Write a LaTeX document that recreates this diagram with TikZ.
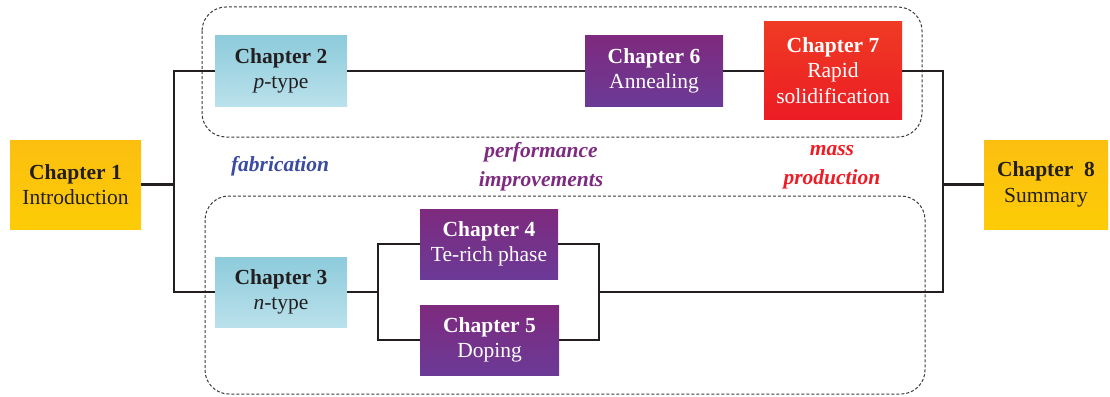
\documentclass[tikz,border=0pt]{standalone}
\usepackage{fontspec}
\setmainfont{Liberation Serif}
\definecolor{txt}{HTML}{231F20}
\definecolor{yelT}{HTML}{FBBF10}
\definecolor{yelB}{HTML}{FDCC06}
\definecolor{bluT}{HTML}{8DCBDB}
\definecolor{bluB}{HTML}{BAE1EB}
\definecolor{purT}{HTML}{7E2A7E}
\definecolor{purB}{HTML}{6B3A96}
\definecolor{redT}{HTML}{EF3B24}
\definecolor{redB}{HTML}{EC1C24}
\definecolor{fabc}{HTML}{3A4BA0}
\definecolor{perc}{HTML}{7E2A80}
\definecolor{masc}{HTML}{EE1C25}
\definecolor{dashc}{HTML}{3A3A3A}
\tikzset{
  chap/.style={rectangle, inner sep=0pt, align=center, font=\fontsize{21.5}{25.5}\selectfont},
  yelbox/.style={chap, top color=yelT, bottom color=yelB, text=txt},
  blubox/.style={chap, top color=bluT, bottom color=bluB, text=txt},
  purbox/.style={chap, top color=purT, bottom color=purB, text=white},
  redbox/.style={chap, top color=redT, bottom color=redB, text=white},
  conn/.style={line width=2.2pt, draw=txt},
  group/.style={draw=dashc, line width=1pt, dash pattern=on 3pt off 2pt, rounded corners=24pt},
  lab/.style={font=\fontsize{21.5}{29}\selectfont\bfseries\itshape, align=center}
}
\begin{document}
\begin{tikzpicture}[x=1pt,y=-1pt]
\useasboundingbox (0,0) rectangle (1110,396);
% groups
\draw[group] (202,7) rectangle (922,137);
\draw[group] (205,196) rectangle (925,394);
% nodes
\node[yelbox, minimum width=131pt, minimum height=89pt] (c1) at (75.5,184.5) {\textbf{Chapter 1}\\Introduction};
\node[blubox, minimum width=132pt, minimum height=70pt] (c2) at (281,71) {\textbf{Chapter 2}\\\textit{p}-type};
\node[blubox, minimum width=132pt, minimum height=70pt] (c3) at (281,292) {\textbf{Chapter 3}\\\textit{n}-type};
\node[purbox, minimum width=138pt, minimum height=70pt] (c4) at (489,244) {\textbf{Chapter 4}\\Te-rich phase};
\node[purbox, minimum width=139pt, minimum height=70pt] (c5) at (489.5,340) {\textbf{Chapter 5}\\Doping};
\node[purbox, minimum width=138pt, minimum height=70pt] (c6) at (654,71) {\textbf{Chapter 6}\\Annealing};
\node[redbox, minimum width=138pt, minimum height=97pt] (c7) at (833,70.5) {\textbf{Chapter 7}\\Rapid\\solidification};
\node[yelbox, minimum width=124pt, minimum height=89pt] (c8) at (1046,184.5) {\textbf{Chapter\ \ 8}\\Summary};
% labels
\node[lab, text=fabc] (l1) at (280,166) {fabrication};
\node[lab, text=perc] (l2) at (541,167) {performance\\improvements};
\node[lab, text=masc] (l3) at (832,167) {mass\\production};
% junctions
\coordinate (j1) at (174,184.5);
\coordinate (jl) at (378,292);
\coordinate (jr) at (599,292);
\coordinate (j8) at (943,184.5);
% connectors
\draw[conn] (c1.east) -- (j1);
\draw[conn] (c2.west) -| (j1);
\draw[conn] (c3.west) -| (j1);
\draw[conn] (c2.east) -- (c6.west);
\draw[conn] (c6.east) -- (c6.east -| c7.west);
\draw[conn] (c7.east |- c6.east) -| (j8);
\draw[conn] (c8.west) -- (j8);
\draw[conn] (c3.east) -- (jl);
\draw[conn] (c4.west) -| (jl);
\draw[conn] (c5.west) -| (jl);
\draw[conn] (c4.east) -| (jr);
\draw[conn] (c5.east) -| (jr);
\draw[conn] (jr) -| (j8);
\end{tikzpicture}
\end{document}
